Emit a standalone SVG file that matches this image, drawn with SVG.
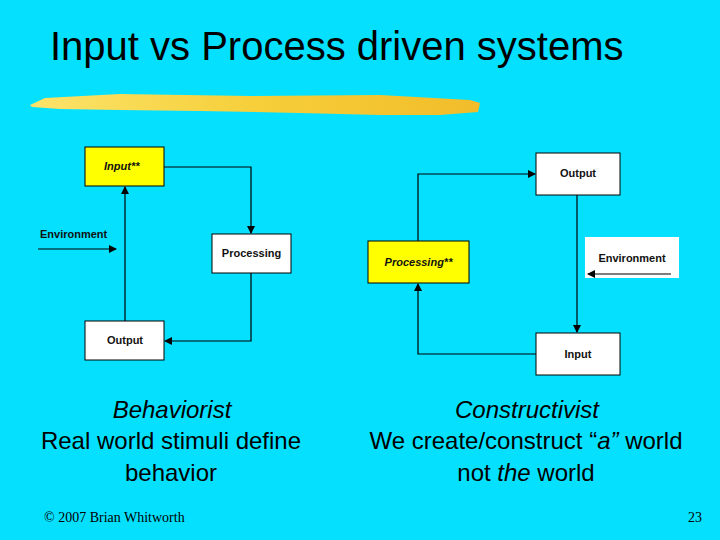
<svg xmlns="http://www.w3.org/2000/svg" width="720" height="540" viewBox="0 0 720 540">
<defs>
<marker id="ah" markerWidth="8" markerHeight="8" refX="7" refY="4" orient="auto" markerUnits="userSpaceOnUse">
<path d="M0,0 L8,4 L0,8 Z" fill="#000"/>
</marker>
<linearGradient id="brush" x1="0" x2="1" y1="0" y2="0">
<stop offset="0" stop-color="#FBE36A"/>
<stop offset="0.5" stop-color="#F6CF3A"/>
<stop offset="1" stop-color="#F2BC2A"/>
</linearGradient>
</defs>
<style>
.box{fill:#fff;stroke:#000;stroke-width:1}
.yel{fill:#ffff00;stroke:#000;stroke-width:1}
.lbl{font-family:"Liberation Sans",Arial,sans-serif;font-size:11px;font-weight:bold;fill:#111}
.it{font-style:italic}
.con{fill:none;stroke:#000;stroke-width:1.2}
.big{font-family:"Liberation Sans",Arial,sans-serif;font-size:24px;fill:#000}
</style>
<rect x="0" y="0" width="720" height="540" fill="#05E0FF"/>
<text x="50" y="60" font-family="'Liberation Sans',Arial,sans-serif" font-size="40" fill="#000">Input vs Process driven systems</text>
<path d="M30,105 L45,98 L120,94 L250,96 L380,95 L470,100 L480,103 L478,112 L440,115 L380,115 L300,113 L200,111 L120,110 L60,109 L32,107 Z" fill="url(#brush)"/>

<g id="l-input"><rect class="yel" x="85" y="147" width="79" height="39"/><text class="lbl it" x="104" y="170">Input**</text></g>
<g id="l-processing"><rect class="box" x="212" y="234" width="79" height="39"/><text class="lbl" x="251.5" y="257" text-anchor="middle">Processing</text></g>
<g id="l-output"><rect class="box" x="85" y="321" width="79" height="39"/><text class="lbl" x="125" y="344" text-anchor="middle">Output</text></g>
<g id="l-env"><text class="lbl" x="40" y="238">Environment</text></g>

<g id="r-output"><rect class="box" x="536" y="153" width="84" height="42"/><text class="lbl" x="578" y="177" text-anchor="middle">Output</text></g>
<g id="r-processing"><rect class="yel" x="368" y="241" width="101" height="42"/><text class="lbl it" x="418.5" y="266" text-anchor="middle">Processing**</text></g>
<g id="r-env"><rect x="585" y="237" width="94" height="41" fill="#fff"/><text class="lbl" x="632" y="262" text-anchor="middle">Environment</text></g>
<g id="r-input"><rect class="box" x="536" y="333" width="84" height="42"/><text class="lbl" x="578" y="358" text-anchor="middle">Input</text></g>

<g id="connectors">
<path class="con" d="M164,167 H251 V233" marker-end="url(#ah)"/>
<path class="con" d="M251,273 V341 H165" marker-end="url(#ah)"/>
<path class="con" d="M125,321 V187" marker-end="url(#ah)"/>
<path class="con" d="M38,249 H116" marker-end="url(#ah)"/>
<path class="con" d="M418,241 V174 H535" marker-end="url(#ah)"/>
<path class="con" d="M577,195 V332" marker-end="url(#ah)"/>
<path class="con" d="M536,354 H418 V284" marker-end="url(#ah)"/>
<path class="con" d="M671,274 H588" marker-end="url(#ah)"/>
</g>

<text class="big it" x="172" y="418" text-anchor="middle">Behaviorist</text>
<text class="big" x="171" y="449" text-anchor="middle">Real world stimuli define</text>
<text class="big" x="171" y="481" text-anchor="middle">behavior</text>
<text class="big it" x="527" y="418" text-anchor="middle">Constructivist</text>
<text class="big" x="526" y="449" text-anchor="middle">We create/construct “<tspan font-style="italic">a”</tspan> world</text>
<text class="big" x="526" y="481" text-anchor="middle">not <tspan font-style="italic">the</tspan> world</text>

<text x="44" y="522" font-family="'Liberation Serif','Times New Roman',serif" font-size="14" fill="#000">© 2007 Brian Whitworth</text>
<text x="702" y="522" text-anchor="end" font-family="'Liberation Serif','Times New Roman',serif" font-size="14" fill="#000">23</text>
</svg>
